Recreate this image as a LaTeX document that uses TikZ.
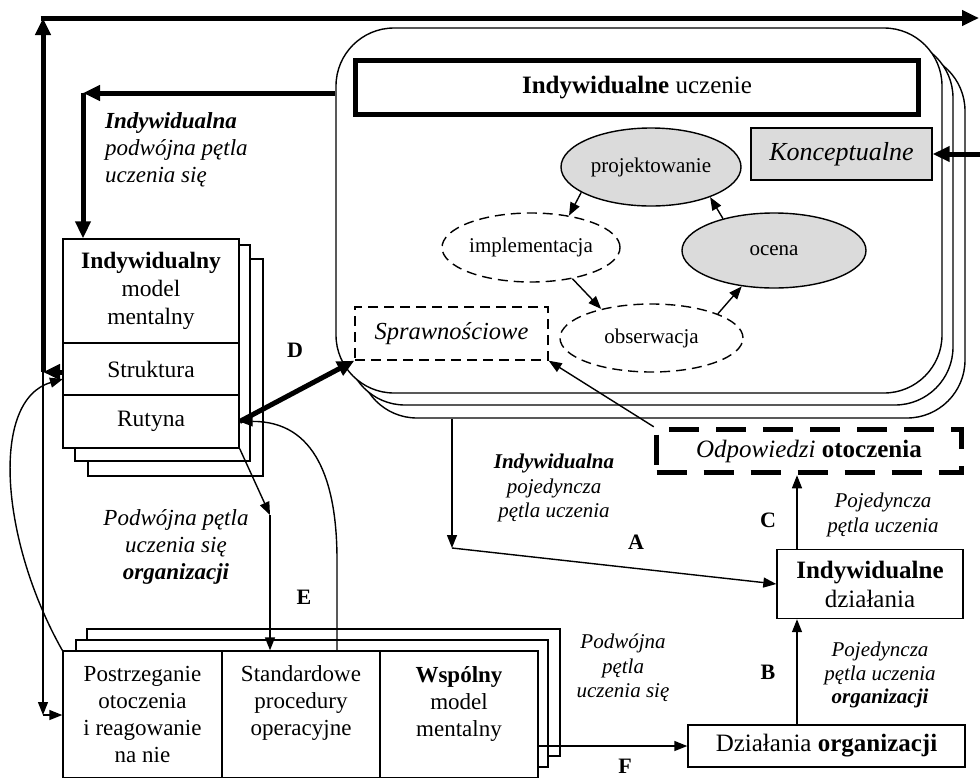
\documentclass[tikz,border=0pt]{standalone}
\usepackage{fontspec}
\setmainfont{Liberation Serif}
\usetikzlibrary{arrows.meta,shapes.geometric}
\definecolor{fillgray}{gray}{0.86}
\begin{document}
\begin{tikzpicture}[x=1pt,y=-1pt,
  ln/.style={line width=1.4pt},
  tk/.style={line width=5pt},
  arr/.style={ln,-{Triangle[length=13pt,width=10pt]}},
  tarr/.style={tk,-{Triangle[length=17pt,width=15pt]}},
  sbox/.style={draw,line width=1.4pt,fill=white,inner sep=0pt,rectangle},
  dsh/.style={dash pattern=on 10pt off 6pt},
  ell/.style={draw,ellipse,line width=1.4pt,inner sep=0pt},
  fa/.style={font=\fontsize{23.5}{28}\selectfont,align=center},
  fbot/.style={font=\fontsize{23}{27}\selectfont,align=center},
  fb/.style={font=\fontsize{25}{29}\selectfont,align=center},
  fe/.style={font=\fontsize{21}{25}\selectfont,align=center},
  lab/.style={font=\fontsize{21}{24.5}\selectfont\itshape,align=center,inner sep=0pt},
  labl/.style={font=\fontsize{23}{27}\selectfont\itshape,inner sep=0pt},
  ltr/.style={font=\fontsize{22}{22}\selectfont\bfseries,inner sep=0pt},
]
\useasboundingbox (0,0) rectangle (980,777);
\fill[white] (0,0) rectangle (980,777);

% big rounded stack
\node[sbox,rounded corners=58pt,minimum width=606pt,minimum height=365pt] (bigc) at (662,235.5) {};
\node[sbox,rounded corners=58pt,minimum width=606pt,minimum height=365pt] (bigb) at (650,222.5) {};
\node[sbox,rounded corners=58pt,minimum width=606pt,minimum height=365pt] (biga) at (639,210.5) {};

\node[draw,line width=5pt,fill=white,inner sep=0pt,minimum width=563pt,minimum height=54pt,fb] (iu) at (637,87.5) {\textbf{Indywidualne} uczenie};
\node[sbox,fill=fillgray,minimum width=181pt,minimum height=52pt,font=\fontsize{26}{30}\selectfont\itshape] (konc) at (841.5,154) {Konceptualne};

\node[ell,fill=fillgray,minimum width=180pt,minimum height=78pt,fe] (proj) at (651,167) {projektowanie};
\node[ell,fill=fillgray,minimum width=184pt,minimum height=75pt,fe] (oc) at (774,250.5) {ocena};
\node[ell,dsh,fill=white,minimum width=178pt,minimum height=69pt,fe] (impl) at (531,247.5) {implementacja};
\node[ell,dsh,fill=white,minimum width=183pt,minimum height=68pt,fe] (obs) at (651.5,338) {obserwacja};
\node[draw,ln,dsh,inner sep=0pt,minimum width=193pt,minimum height=53pt,font=\fontsize{24.5}{28}\selectfont\itshape] (spr) at (451.5,333.5) {Sprawnościowe};

\draw[arr] (proj.200) -- (impl.40);
\draw[arr] (impl.323) -- (obs.150);
\draw[arr] (obs.20) -- (oc.228);
\draw[arr] (oc.148) -- (proj.333);

% individual mental model stack
\draw[ln,fill=white] (88,259) rectangle (263,476);
\draw[ln,fill=white] (75,245) rectangle (250,461);
\node[sbox,fa,minimum width=176pt,minimum height=104pt] (imm) at (151,291) {\textbf{Indywidualny}\\model\\mentalny};
\node[sbox,fa,minimum width=176pt,minimum height=52pt] (struk) at (151,369) {Struktura};
\node[sbox,fa,minimum width=176pt,minimum height=53pt] (rut) at (151,421.5) {Rutyna};

% organisation stack
\draw[ln,fill=white] (87,629) rectangle (560,756);
\draw[ln,fill=white] (76,640) rectangle (548,767);
\node[sbox,fbot,minimum width=159pt,minimum height=127pt] (post) at (142.5,714.5) {Postrzeganie\\otoczenia\\i reagowanie\\na nie};
\node[sbox,fbot,minimum width=158pt,minimum height=127pt] (sop) at (301,714.5) {Standardowe\\procedury\\operacyjne\\\mbox{}};
\node[sbox,fbot,minimum width=158pt,minimum height=127pt] (wsp) at (459,714.5) {\textbf{Wspólny}\\model\\mentalny\\\mbox{}};

% right boxes
\node[draw,line width=5.5pt,dash pattern=on 30pt off 17pt,fill=white,inner sep=0pt,minimum width=305pt,minimum height=43pt,fb] (odp) at (809,451) {\textit{Odpowiedzi} \textbf{otoczenia}};
\node[sbox,fb,minimum width=186pt,minimum height=69pt] (inddz) at (870,584) {\textbf{Indywidualne}\\działania};
\node[sbox,fb,minimum width=277pt,minimum height=42pt] (dzorg) at (826.5,746) {Działania \textbf{organizacji}};

% coordinates
\coordinate (cx) at (797,0);
\coordinate (a1) at (452,548);
\coordinate (k1) at (83,93);
\coordinate (k2) at (43,372);
\coordinate (k3) at (43,18);
\coordinate (k4) at (979,18);
\coordinate (k5) at (43,715);
\coordinate (k6) at (63,379);
\coordinate (kr) at (980,154);
\coordinate (e1) at (270,515);
\coordinate (s1) at (337,651);
\coordinate (s2) at (337,560);

% connectors
\draw[arr] (dzorg.north -| cx) -- (inddz.south -| cx);
\draw[arr] (inddz.north -| cx) -- (odp.south -| cx);
\draw[arr] (odp.north west) -- (spr.south east);
\draw[arr] (bigc.south -| a1) -- (a1);
\draw[arr] (a1) -- (inddz.west);
\draw[arr] (wsp.east |- dzorg.west) -- (dzorg.west);
\draw[tarr] (rut.east) -- (spr.south west);
\draw[arr] (s1) -- (s2) .. controls (337,480) and (315,421) .. (rut.east);
\draw[arr] (rut.south east) -- (e1);
\draw[arr] (e1) -- (sop.north -| e1);
\draw[tarr] (kr) -- (konc.east);
\draw[tarr] (biga.west |- k1) -- (k1);
\draw[tarr] (k1) -- (imm.north -| k1);
\draw[arr] (k2) -- (k5);
\draw[arr] (k5) -- (post.west |- k5);
\draw[tarr] (k2 -| struk.west) -- (k2);
\draw[tarr] (k2) -- (k3);
\draw[tarr] ([xshift=-2.5pt]k3) -- (k4);
\draw[arr] (post.north west) .. controls (0,540) and (-10,400) .. (k6);

% labels
\node[labl,anchor=west,align=left] (l1) at (105,150) {\textbf{Indywidualna}\\podwójna pętla\\uczenia się};
\node[lab] (l2) at (554,488) {\textbf{Indywidualna}\\pojedyncza\\pętla uczenia};
\node[labl,align=center] (l3) at (176,547) {Podwójna pętla\\uczenia się\\\textbf{organizacji}};
\node[lab] (l4) at (883,515) {Pojedyncza\\pętla uczenia};
\node[lab,font=\fontsize{21}{23.5}\selectfont\itshape] (l5) at (880,675) {Pojedyncza\\pętla uczenia\\\textbf{organizacji}};
\node[lab] (l6) at (623,668) {Podwójna\\pętla\\uczenia się};
\node[ltr] (lD) at (295,350) {D};
\node[ltr] (lE) at (304,597) {E};
\node[ltr] (lA) at (636,542) {A};
\node[ltr] (lB) at (768,672) {B};
\node[ltr] (lC) at (768,520) {C};
\node[ltr] (lF) at (625,766) {F};
\end{tikzpicture}
\end{document}
